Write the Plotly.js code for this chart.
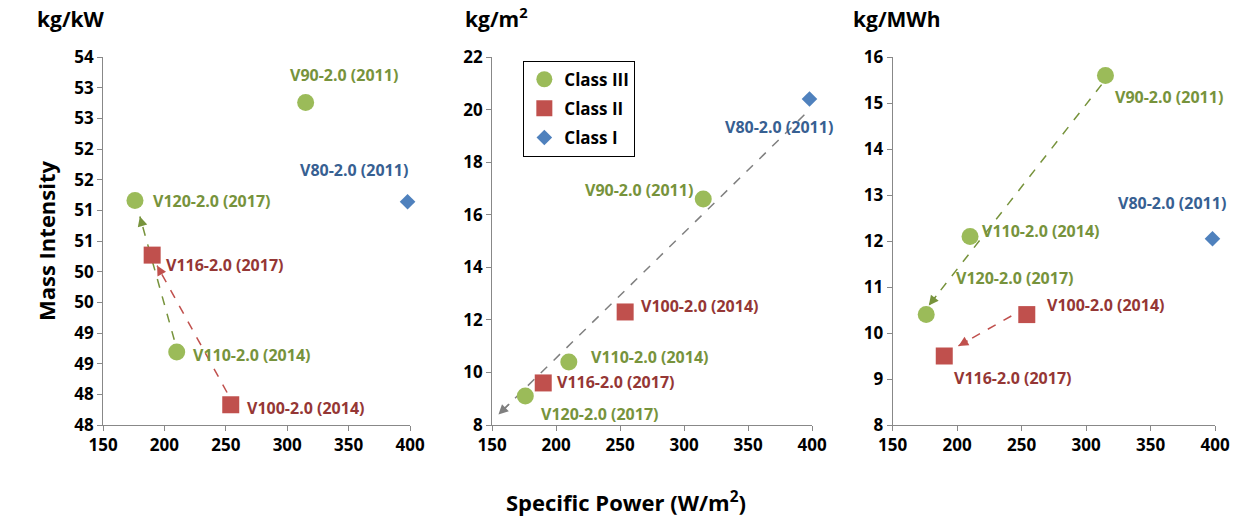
<!DOCTYPE html>
<html><head><meta charset="utf-8">
<script src="https://cdn.plot.ly/plotly-3.0.1.min.js"></script>
<style>body{margin:0}</style></head>
<body><div id="plot" style="width:1252px;height:523px"></div>
<script>
// turbine data
var names = ['V80-2.0 (2011)','V90-2.0 (2011)','V100-2.0 (2014)','V110-2.0 (2014)','V116-2.0 (2017)','V120-2.0 (2017)'];
var cls = ['I','III','II','III','II','III'];
var specPower = [398, 315, 254, 210, 190, 176];
var kgPerKW  = [51.64, 53.26, 48.33, 49.19, 50.77, 51.66];
var kgPerM2  = [20.4, 16.6, 12.3, 10.4, 9.6, 9.1];
var kgPerMWh = [12.05, 15.6, 10.4, 12.1, 9.5, 10.4];

var kwTickVals = [48,48.5,49,49.5,50,50.5,51,51.5,52,52.5,53,53.5,54];
var kwTickText = ['48','48','49','49','50','50','51','51','52','52','53','53','54'];

var clsStyle = {
  'III': {name:'Class III', color:'#9BBB59', symbol:'circle', size:17, txt:'#77933C'},
  'II':  {name:'Class II',  color:'#C0504D', symbol:'square', size:17, txt:'#953735'},
  'I':   {name:'Class I',   color:'#4F81BD', symbol:'diamond', size:12, txt:'#376092'}
};
// label offsets per panel [xshift, yshift, xanchor]
var lab1 = [[-54,32,'center'],[38,27,'center'],[14,-3,'left'],[14,-3,'left'],[12,-10,'left'],[16,0,'left']];
var lab2 = [[-30,-28,'center'],[-8,9,'right'],[14,6,'left'],[20,5,'left'],[12,1,'left'],[14,-18,'left']];
var lab3 = [[-40,36,'center'],[8,-22,'left'],[18,10,'left'],[10,5,'left'],[8,-22,'left'],[88,37,'center']];

var panels = [
  {y:kgPerKW, xa:'x', ya:'y', lab:lab1},
  {y:kgPerM2, xa:'x2', ya:'y2', lab:lab2},
  {y:kgPerMWh, xa:'x3', ya:'y3', lab:lab3}
];

var data = [], ann = [];
var font = 'Open Sans, DejaVu Sans, sans-serif';

// dashed arrows: dashed line trace plus a short annotation for the head
function arrow(pi, x0, y0, x1, y1, color, f){
  var p = panels[pi];
  data.push({x:[x0,x1], y:[y0,y1], xaxis:p.xa, yaxis:p.ya, mode:'lines', type:'scatter',
    showlegend:false, hoverinfo:'skip', line:{color:color, dash:'dash', width:1.5}});
  ann.push({x:x1, y:y1, ax:x1-(x1-x0)*f, ay:y1-(y1-y0)*f, xref:p.xa, yref:p.ya, axref:p.xa, ayref:p.ya,
    showarrow:true, arrowhead:2, arrowsize:1.3, arrowwidth:1.5, arrowcolor:color, text:''});
}
arrow(0, specPower[3]-2, kgPerKW[3]+0.2, 180, 51.4, '#77933C', 0.05);
arrow(0, specPower[2]-3, kgPerKW[2]+0.2, 194, 50.6, '#C0504D', 0.05);
arrow(1, specPower[0]-4, kgPerM2[0]-0.6, 155, 8.4, '#7F7F7F', 0.04);
arrow(2, specPower[1]-3, kgPerMWh[1]-0.2, 178, 10.6, '#77933C', 0.05);
arrow(2, specPower[2]-12, kgPerMWh[2]-0.03, 201, 9.72, '#C0504D', 0.2);

panels.forEach(function(p, pi){
  ['III','II','I'].forEach(function(c){
    var xs=[], ys=[];
    cls.forEach(function(k,i){ if(k===c){ xs.push(specPower[i]); ys.push(p.y[i]); } });
    var s = clsStyle[c];
    data.push({x:xs, y:ys, xaxis:p.xa, yaxis:p.ya, mode:'markers', type:'scatter', name:s.name,
      legendgroup:c, showlegend: pi===1, cliponaxis:false,
      marker:{color:s.color, symbol:s.symbol, size:s.size}});
  });
  names.forEach(function(n,i){
    var s = clsStyle[cls[i]], o = p.lab[i];
    ann.push({x:specPower[i], y:p.y[i], xref:p.xa, yref:p.ya, text:n, showarrow:false,
      xanchor:o[2], xshift:o[0], yshift:o[1], font:{family:font, size:16, color:s.txt, weight:'bold'}});
  });
});

var axFont = {family:font, size:17, color:'#000', weight:'bold'};
function xax(dom, anchor){ return {domain:dom, anchor:anchor, range:[150,400], dtick:50, showgrid:false, zeroline:false,
  showline:true, linecolor:'#888', ticks:'outside', ticklen:5, tickcolor:'#888', tickfont:axFont}; }
function yax(anchor, r, dt){ return {domain:[0,1], anchor:anchor, range:r, dtick:dt, showgrid:false, zeroline:false,
  showline:true, linecolor:'#888', ticks:'outside', ticklen:5, tickcolor:'#888', tickfont:axFont}; }

var y1 = yax('x',[48,54],0.5); y1.tickmode='array'; y1.tickvals=kwTickVals; y1.ticktext=kwTickText;
y1.title = {text:'Mass Intensity', font:{family:font, size:22, color:'#000', weight:'bold'}, standoff:12};

var titleFont = {family:font, size:21, color:'#000', weight:'bold'};
ann.push({xref:'paper', yref:'paper', x:0.028, y:1.06, yanchor:'bottom', xanchor:'left', text:'kg/kW', showarrow:false, font:titleFont});
ann.push({xref:'paper', yref:'paper', x:0.37, y:1.06, yanchor:'bottom', xanchor:'left', text:'kg/m<sup>2</sup>', showarrow:false, font:titleFont});
ann.push({xref:'paper', yref:'paper', x:0.68, y:1.06, yanchor:'bottom', xanchor:'left', text:'kg/MWh', showarrow:false, font:titleFont});
ann.push({xref:'paper', yref:'paper', x:0.5, y:-0.16, yanchor:'top', xanchor:'center', text:'Specific Power (W/m<sup>2</sup>)', showarrow:false, font:{family:font, size:22, color:'#000', weight:'bold'}});

var layout = {
  width:1252, height:523, margin:{l:0, r:0, t:57, b:98}, paper_bgcolor:'#fff', plot_bgcolor:'#fff',
  xaxis: xax([0.0823,0.3275],'y'), yaxis: y1,
  xaxis2: xax([0.393,0.6486],'y2'), yaxis2: yax('x2',[8,22],2),
  xaxis3: xax([0.713,0.9705],'y3'), yaxis3: yax('x3',[8,16],1),
  showlegend:true,
  legend:{x:0.418, y:0.99, xanchor:'left', yanchor:'top', bordercolor:'#000', borderwidth:1, bgcolor:'#fff',
    font:{family:font, size:17, color:'#000', weight:'bold'}, tracegroupgap:4},
  annotations: ann
};
Plotly.newPlot('plot', data, layout, {displayModeBar:false});
</script></body></html>
